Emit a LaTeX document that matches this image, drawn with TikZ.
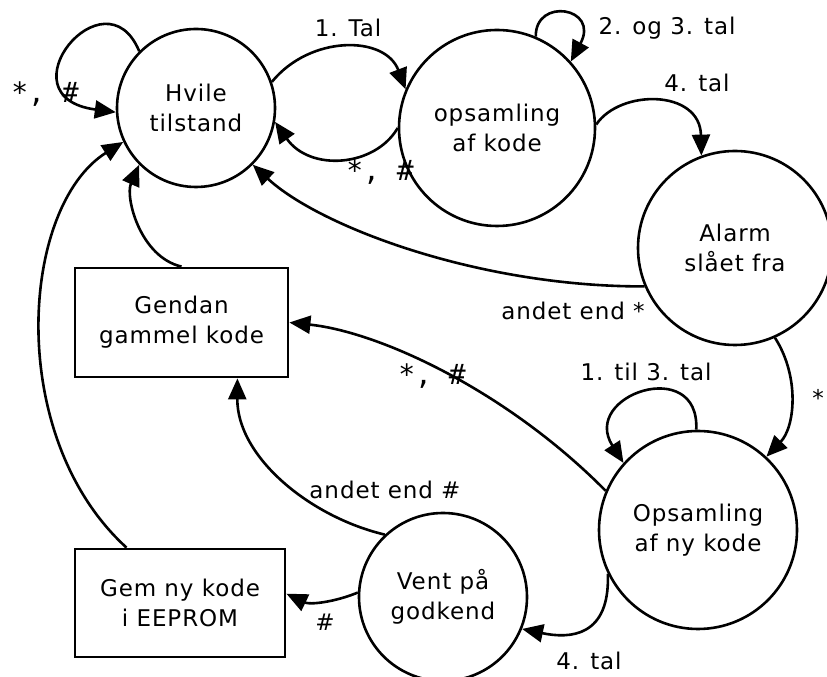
\documentclass[tikz,border=0pt]{standalone}
\usepackage{fontspec}
\setmainfont{DejaVu Sans}[LetterSpace=4]
\newfontfamily\monof{DejaVu Sans Mono}
\usetikzlibrary{arrows.meta}
\tikzset{
 state/.style={circle,draw,line width=2.6pt,align=center,inner sep=0pt},
 act/.style={rectangle,draw,line width=2.8pt,align=center,inner sep=0pt},
 edge/.style={line width=2.6pt,-{Triangle[length=21pt,width=18pt]}},
 lab/.style={inner sep=0pt},
 mlab/.style={inner sep=0pt,font=\monof\fontsize{28}{30}\selectfont},
}
\begin{document}
\begin{tikzpicture}[x=1pt,y=1pt,font=\fontsize{23}{30}\selectfont]
\useasboundingbox (0,0) rectangle (827,677);
% nodes
\node[state,minimum size=158pt] (hv) at (196,569) {Hvile\\tilstand};
\node[state,minimum size=196pt] (ok) at (497,549) {opsamling\\af kode};
\node[state,minimum size=194pt] (al) at (735,429) {Alarm\\slået fra};
\node[state,minimum size=198pt] (ny) at (698,147) {Opsamling\\af ny kode};
\node[state,minimum size=168pt] (vp) at (443,80) {Vent på\\godkend};
\node[act,minimum width=213pt,minimum height=109pt] (gg) at (181.5,354.5) {Gendan\\gammel kode};
\node[act,minimum width=210pt,minimum height=108pt] (gem) at (180,74) {Gem ny kode\\i EEPROM};
% edges
\draw[edge] (hv.135) .. controls (105,708) and (0,580) .. (hv.183);
\draw[edge] (hv.19) .. controls (310,642) and (385,642) .. (ok.157);
\draw[edge] (ok.180) .. controls (375,510) and (310,505) .. (hv.-10);
\draw[edge] (ok.67) .. controls (535,680) and (600,670) .. (ok.42);
\draw[edge] (ok.2) .. controls (620,588) and (700,588) .. (al.110);
\draw[edge] (al.203) .. controls (480,390) and (320,450) .. (hv.-45);
\draw[edge] (al.-66) .. controls (800,300) and (795,250) .. (ny.47);
\draw[edge] (ny.91) .. controls (700,322) and (580,282) .. (ny.138);
\draw[edge] (ny.157) .. controls (507,286) and (380,345) .. (gg.east);
\draw[edge] (vp.133) .. controls (310,160) and (237,220) .. (gg.-45);
\draw[edge] (vp.177) .. controls (335,75) and (310,72) .. (gem.5);
\draw[edge] (ny.206) .. controls (610,40) and (570,38) .. (vp.-22);
\draw[edge] (gg.north) .. controls (140,420) and (125,480) .. (hv.225);
\draw[edge] (gem.134) .. controls (5,240) and (20,470) .. (hv.205);
% labels
\node[mlab] (l1) at (45,583) {*, \#};
\node[lab] (l2) at (348,649) {1. Tal};
\node[mlab] (l3) at (380,505) {*, \#};
\node[lab] (l4) at (667,649) {2. og 3. tal};
\node[lab] (l5) at (697,594) {4. tal};
\node[lab] (l6) at (573,366) {andet end *};
\node[lab] (l7) at (818,279) {*};
\node[lab] (l8) at (646,305) {1. til 3. tal};
\node[mlab] (l9) at (432,301) {*, \#};
\node[lab] (l10) at (385,187) {andet end \#};
\node[lab] (l11) at (325,55) {\#};
\node[lab] (l12) at (589,16) {4. tal};
\end{tikzpicture}
\end{document}
